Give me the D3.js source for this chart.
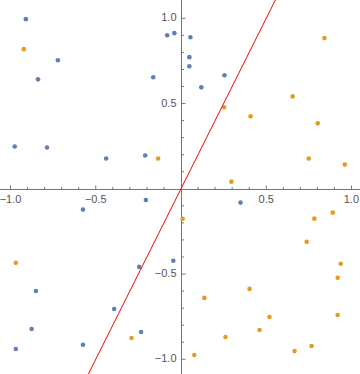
<!DOCTYPE html>
<html><head><meta charset="utf-8">
<script src="https://cdn.jsdelivr.net/npm/d3@7"></script>
<style>body{margin:0;background:#fff}svg{display:block}text{font-family:"Liberation Sans",Arial,sans-serif;font-size:11px;fill:#555}</style>
</head><body><svg id="c" width="360" height="374"></svg>
<script>
const blueX = [-0.910,-0.722,-0.839,-0.163,-0.081,-0.039,-0.975,-0.786,-0.439,-0.210,0.055,0.049,0.049,0.255,0.119,-0.206,-0.575,-0.045,-0.245,-0.851,-0.392,-0.876,-0.234,-0.969,-0.575,0.349];
const blueY = [0.995,0.754,0.642,0.654,0.901,0.913,0.248,0.242,0.178,0.195,0.889,0.772,0.719,0.666,0.595,-0.066,-0.122,-0.422,-0.458,-0.599,-0.705,-0.822,-0.840,-0.940,-0.915,-0.081];
const orangeX = [-0.922,-0.134,0.841,0.655,0.253,0.408,0.802,0.749,0.961,0.296,-0.969,-0.290,0.010,0.890,0.782,0.737,0.937,0.919,0.402,0.137,0.519,0.919,0.461,0.261,0.666,0.766,0.078];
const orangeY = [0.819,0.178,0.884,0.542,0.478,0.425,0.384,0.178,0.142,0.042,-0.434,-0.875,-0.176,-0.140,-0.175,-0.311,-0.440,-0.522,-0.587,-0.640,-0.752,-0.740,-0.828,-0.869,-0.952,-0.922,-0.975];
const lineSlope = 2;
const majorTicks = [-1.0,-0.5,0.5,1.0];
const tickLabels = ["\u22121.0","\u22120.5","0.5","1.0"];

const W=360,H=374;
const x=d3.scaleLinear().domain([-1,1]).range([10.5,351.5]);
const y=d3.scaleLinear().domain([-1,1]).range([359.3,18.3]);
const svg=d3.select("#c");
const minor=d3.range(-10,11).map(i=>i/10).filter(v=>Math.abs(v)>1e-9);
const isMajor=v=>Math.abs(Math.abs(v)-0.5)<1e-9||Math.abs(Math.abs(v)-1)<1e-9;
const axCol="#777";
const x0=Math.round(x(0))+0.5, y0=Math.round(y(0))+0.5;
// axes
svg.append("line").attr("x1",0).attr("x2",W).attr("y1",y0).attr("y2",y0).attr("stroke",axCol);
svg.append("line").attr("x1",x0).attr("x2",x0).attr("y1",0).attr("y2",H).attr("stroke",axCol);
const gx=svg.append("g");
gx.selectAll("line").data(minor).join("line")
 .attr("x1",d=>x(d)).attr("x2",d=>x(d)).attr("y1",y0).attr("y2",d=>y0-(isMajor(d)?4:2.5)).attr("stroke",axCol);
const gy=svg.append("g");
gy.selectAll("line").data(minor).join("line")
 .attr("y1",d=>y(d)).attr("y2",d=>y(d)).attr("x1",x0).attr("x2",d=>x0+(isMajor(d)?4:2.5)).attr("stroke",axCol);
svg.append("g").selectAll("text").data(majorTicks).join("text")
 .attr("x",d=>x(d)).attr("y",y0+13).attr("text-anchor","middle").text((d,i)=>tickLabels[i]);
svg.append("g").selectAll("text").data(majorTicks).join("text")
 .attr("x",x0-5).attr("y",d=>y(d)+3).attr("text-anchor","end").text((d,i)=>tickLabels[i]);
// points
const pts=(xs,ys,col)=>svg.append("g").selectAll("circle").data(xs).join("circle")
 .attr("cx",d=>x(d)).attr("cy",(d,i)=>y(ys[i])).attr("r",2.3).attr("fill",col);
pts(blueX,blueY,"#5E81B5");
pts(orangeX,orangeY,"#E19C24");
// line y = 2x
const yTop=y.invert(0), yBot=y.invert(H);
svg.append("line").attr("x1",x(yBot/lineSlope)).attr("y1",y(yBot)).attr("x2",x(yTop/lineSlope)).attr("y2",y(yTop))
 .attr("stroke","#ff0000").attr("stroke-width",1);
</script></body></html>
